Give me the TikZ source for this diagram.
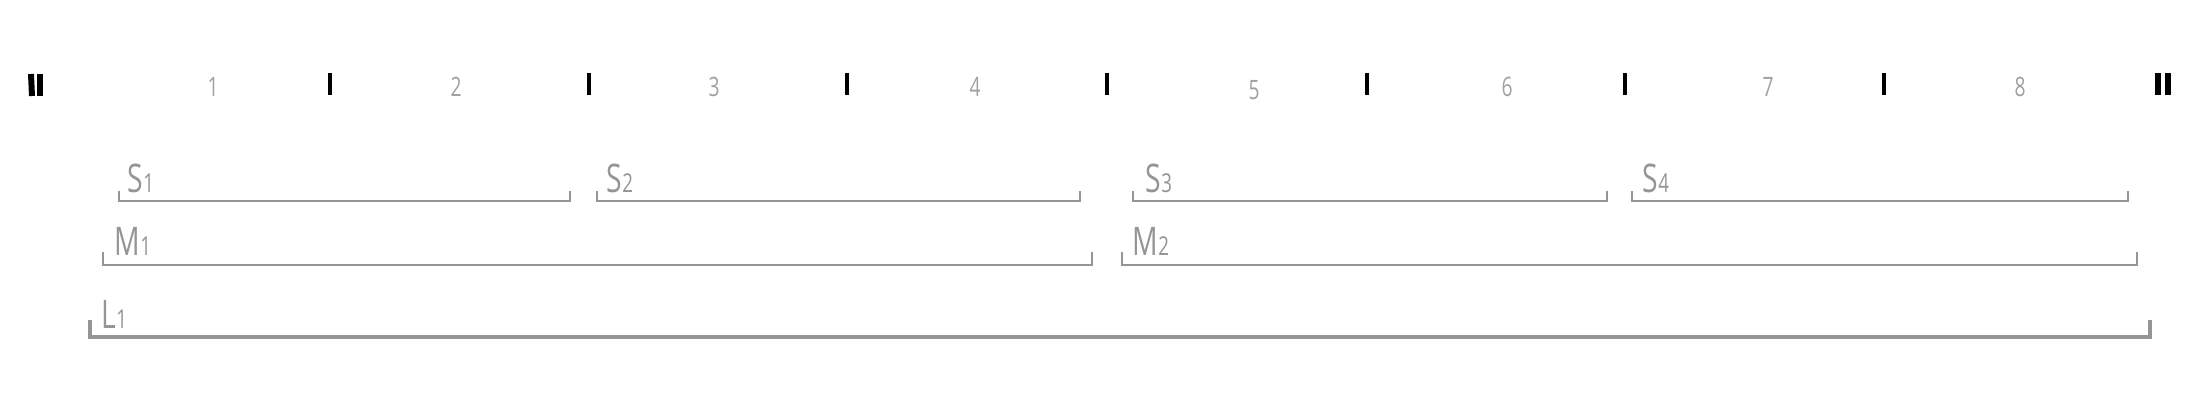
\documentclass[tikz,border=0pt]{standalone}
\usepackage{fontspec}
\setmainfont[FakeStretch=0.72]{Open Sans}
\definecolor{groupgray}{RGB}{148,148,153}
\definecolor{numgray}{RGB}{160,160,163}
\def\groupbracket[#1](#2:#3:#4:#5){\draw[#1] (#2,#4-#5) -- (#2,#4) -- (#3,#4) -- (#3,#4-#5);}
\newcommand{\idx}[1]{{\fontsize{7.4}{7.4}\selectfont #1}}

\begin{document}
\begin{tikzpicture}[x=0.01cm, y=-0.01cm,
	numlabel/.style={anchor=base, inner sep=0pt, color=numgray, font=\fontsize{7.6}{8}\selectfont},
	grouplabel/.style={anchor=base west, inner sep=0pt, color=groupgray, font=\fontsize{11.2}{12}\selectfont},
	barline/.style={line width=1.4pt, color=black}]
			%%%%% START %%%%%
			\useasboundingbox (0,0) rectangle (2200,403);
			
			\draw[barline, line width=1.7pt] (31,74) -- (32,96);
			\draw[barline, line width=1.7pt] (40,74) -- (40,96);
			\draw[barline] (330,73) -- (330,95);
			\draw[barline] (589,73) -- (589,95);
			\draw[barline] (847,73) -- (847,95);
			\draw[barline] (1107,73) -- (1107,95);
			\draw[barline] (1367,73) -- (1367,95);
			\draw[barline] (1625,73) -- (1625,95);
			\draw[barline] (1884,73) -- (1884,95);
			\draw[barline, line width=1.7pt] (2158,73) -- (2158,95);
			\draw[barline, line width=1.7pt] (2168,73) -- (2168,95);
			
			\node[numlabel] (n1) at (213,97) {1};
			\node[numlabel] (n2) at (456,97) {2};
			\node[numlabel] (n3) at (714,97) {3};
			\node[numlabel] (n4) at (975,97) {4};
			\node[numlabel] (n5) at (1254,100) {5};
			\node[numlabel] (n6) at (1507,97) {6};
			\node[numlabel] (n7) at (1768,97) {7};
			\node[numlabel] (n8) at (2020,97) {8};
			
			\groupbracket[line width=0.7pt, color=groupgray](119:570:201:10);
			\groupbracket[line width=0.7pt, color=groupgray](597:1080:201:10);
			\groupbracket[line width=0.7pt, color=groupgray](1133:1607:201:10);
			\groupbracket[line width=0.7pt, color=groupgray](1632:2128:201:10);
			\node[grouplabel] (S1) at (127,192) {S\idx{1}};
			\node[grouplabel] (S2) at (606,192) {S\idx{2}};
			\node[grouplabel] (S3) at (1145,192) {S\idx{3}};
			\node[grouplabel] (S4) at (1642,192) {S\idx{4}};
			
			\groupbracket[line width=0.7pt, color=groupgray](103:1092:265:13);
			\groupbracket[line width=0.7pt, color=groupgray](1122:2137:265:13);
			\node[grouplabel] (M1) at (114,255) {M\idx{1}};
			\node[grouplabel] (M2) at (1132,255) {M\idx{2}};
			
			\groupbracket[line width=1pt, color=groupgray](90:2150:337:17);
			\node[grouplabel] (L1) at (101,328) {L\idx{1}};
			%%%%% END %%%%%
		\end{tikzpicture}
\end{document}
